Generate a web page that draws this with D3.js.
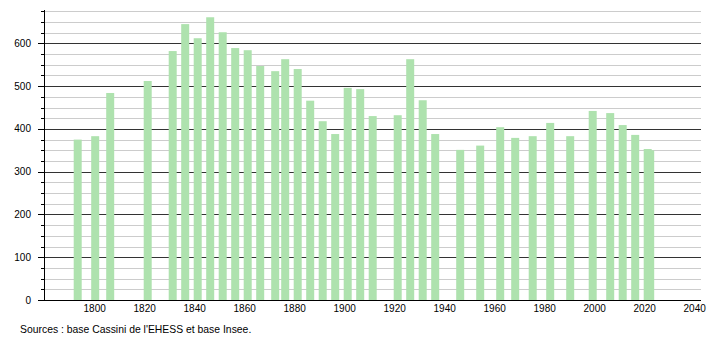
<!DOCTYPE html>
<html>
<head>
<meta charset="utf-8">
<script src="https://cdn.jsdelivr.net/npm/d3@7"></script>
<style>
  html, body { margin: 0; padding: 0; background: #fff; }
  svg { display: block; font-family: "Liberation Sans", Arial, sans-serif; }
</style>
</head>
<body>
<svg id="chart" width="710" height="340"></svg>
<script>
const years = [1793, 1800, 1806, 1821, 1831, 1836, 1841, 1846, 1851, 1856, 1861, 1866,
  1872, 1876, 1881, 1886, 1891, 1896, 1901, 1906, 1911, 1921, 1926, 1931, 1936,
  1946, 1954, 1962, 1968, 1975, 1982, 1990, 1999, 2006, 2011, 2016, 2021, 2022];
const population = [375, 383, 484, 512, 582, 645, 612, 661, 626, 589, 584, 547,
  535, 563, 540, 466, 418, 388, 496, 493, 430, 432, 563, 467, 388,
  351, 361, 404, 379, 383, 414, 383, 442, 437, 409, 386, 353, 350];
const xTicks = [1800, 1820, 1840, 1860, 1880, 1900, 1920, 1940, 1960, 1980, 2000, 2020, 2040];
const yMajorTicks = [0, 100, 200, 300, 400, 500, 600];
const yMinorTicks = d3.range(0, 676, 25);
const sourceText = "Sources : base Cassini de l'EHESS et base Insee.";

(function () {
const svg = d3.select("#chart");
const pLeft = 44, pRight = 701, pTop = 10, pBottom = 300;

const x = d3.scaleLinear().domain([1780, 2040]).range([44.7, 694.7]);
const y = d3.scaleLinear().domain([0, 678]).range([pBottom, pTop]);
const py = d => Math.round(y(d)) + 0.5;

// minor gridlines
svg.append("g").selectAll("line").data(yMinorTicks.filter(v => v % 100 !== 0)).join("line")
  .attr("x1", pLeft).attr("x2", pRight)
  .attr("y1", py).attr("y2", py)
  .attr("stroke", "#cccccc").attr("stroke-width", 1);

// major gridlines
svg.append("g").selectAll("line").data(yMajorTicks.filter(v => v > 0)).join("line")
  .attr("x1", pLeft).attr("x2", pRight)
  .attr("y1", py).attr("y2", py)
  .attr("stroke", "#333333").attr("stroke-width", 1);

// bars
const barW = 8;
svg.append("g").selectAll("rect").data(years.map((yr, i) => ({yr, v: population[i]}))).join("rect")
  .attr("x", d => x(d.yr) - barW / 2 + 0.5)
  .attr("width", barW)
  .attr("y", d => y(d.v))
  .attr("height", d => y(0) - y(d.v))
  .attr("fill", "#aee2ae");

// y axis minor ticks
svg.append("g").selectAll("line").data(yMinorTicks).join("line")
  .attr("x1", pLeft - 3).attr("x2", pLeft)
  .attr("y1", py).attr("y2", py)
  .attr("stroke", "#000").attr("stroke-width", 1);
// y axis major ticks
svg.append("g").selectAll("line").data(yMajorTicks).join("line")
  .attr("x1", pLeft - 6).attr("x2", pLeft)
  .attr("y1", py).attr("y2", py)
  .attr("stroke", "#000").attr("stroke-width", 1);
// y axis line
svg.append("line").attr("x1", pLeft + 0.5).attr("x2", pLeft + 0.5)
  .attr("y1", pTop).attr("y2", pBottom + 0.5).attr("stroke", "#000");
// x axis line
svg.append("line").attr("x1", pLeft).attr("x2", pRight)
  .attr("y1", pBottom + 0.5).attr("y2", pBottom + 0.5).attr("stroke", "#000");

// y labels
svg.append("g").selectAll("text").data(yMajorTicks).join("text")
  .attr("x", 31).attr("y", d => y(d) + 3.5)
  .attr("text-anchor", "end").attr("font-size", 10).attr("fill", "#000")
  .text(d => d);

// x labels
svg.append("g").selectAll("text").data(xTicks).join("text")
  .attr("x", d => x(d)).attr("y", 311.5)
  .attr("text-anchor", "middle").attr("font-size", 10).attr("fill", "#000")
  .text(d => d);

// source
svg.append("text").attr("x", 20).attr("y", 332.5)
  .attr("font-size", 10.4).attr("fill", "#000").text(sourceText);
})();
</script>
</body>
</html>
